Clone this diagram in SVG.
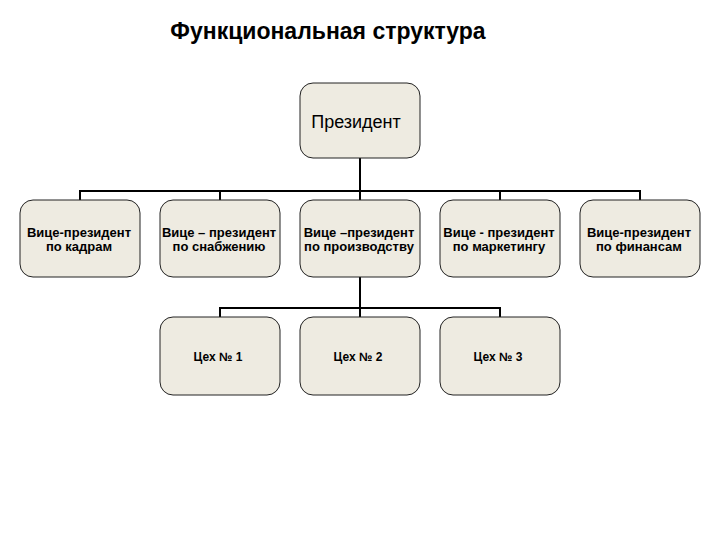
<svg xmlns="http://www.w3.org/2000/svg" width="720" height="540" viewBox="0 0 720 540">
<style>
.box{fill:#EEEBE1;stroke:#222;stroke-width:1}
.t{font-family:"Liberation Sans",Arial,sans-serif;fill:#000;text-anchor:middle}
.b{font-size:13px;font-weight:bold}
.cx{font-size:12px;font-weight:bold}
.c{fill:none;stroke:#000;stroke-width:2}
</style>
<rect width="720" height="540" fill="#fff"/>
<text class="t" x="328" y="39" font-size="23" font-weight="bold">Функциональная структура</text>
<g id="connectors">
<path class="c" d="M360 158V191M80 201V191H640V201M220 191V201M360 191V201M500 191V201"/>
<path class="c" d="M360 277V308M220 318V308H500V318M360 308V318"/>
</g>
<g id="president"><rect class="box" x="300" y="83" width="120" height="75" rx="13"/><text class="t" x="356" y="128" font-size="18">Президент</text></g>
<g id="vp1"><rect class="box" x="20" y="200" width="120" height="77" rx="13"/><text class="t b" x="79" y="237">Вице-президент<tspan x="79" dy="14">по кадрам</tspan></text></g>
<g id="vp2"><rect class="box" x="160" y="200" width="120" height="77" rx="13"/><text class="t b" x="219" y="237">Вице – президент<tspan x="219" dy="14">по снабжению</tspan></text></g>
<g id="vp3"><rect class="box" x="300" y="200" width="120" height="77" rx="13"/><text class="t b" x="359" y="237">Вице –президент<tspan x="359" dy="14">по производству</tspan></text></g>
<g id="vp4"><rect class="box" x="440" y="200" width="120" height="77" rx="13"/><text class="t b" x="499" y="237">Вице - президент<tspan x="499" dy="14">по маркетингу</tspan></text></g>
<g id="vp5"><rect class="box" x="580" y="200" width="120" height="77" rx="13"/><text class="t b" x="639" y="237">Вице-президент<tspan x="639" dy="14">по финансам</tspan></text></g>
<g id="cex1"><rect class="box" x="160" y="317" width="120" height="78" rx="13"/><text class="t cx" x="218" y="361">Цех № 1</text></g>
<g id="cex2"><rect class="box" x="300" y="317" width="120" height="78" rx="13"/><text class="t cx" x="358" y="361">Цех № 2</text></g>
<g id="cex3"><rect class="box" x="440" y="317" width="120" height="78" rx="13"/><text class="t cx" x="498" y="361">Цех № 3</text></g>
</svg>
